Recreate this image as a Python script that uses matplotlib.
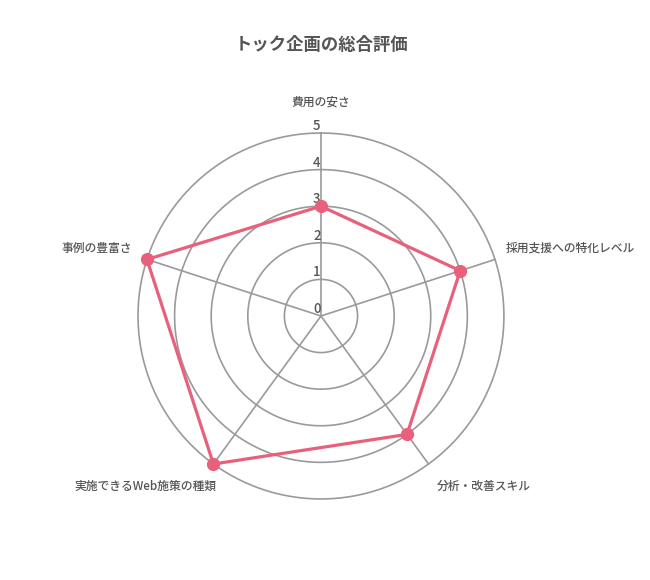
import numpy as np
import matplotlib
matplotlib.use('Agg')
import matplotlib.pyplot as plt

plt.rcParams['font.family'] = ['Noto Sans CJK JP', 'DejaVu Sans']

title = 'トック企画の総合評価'
categories = ['費用の安さ', '採用支援への特化レベル', '分析・改善スキル',
              '実施できるWeb施策の種類', '事例の豊富さ']
scores = [3, 4, 4, 5, 5]
ticks = [0, 1, 2, 3, 4, 5]

text_col = '#555555'
grid_col = '#9a9a9a'
line_col = '#e8607c'

fig = plt.figure(figsize=(6.5, 5.8), dpi=100)
ax = fig.add_axes([0.2123, 0.1397, 0.563, 0.631], projection='polar')
ax.set_theta_zero_location('N')
ax.set_theta_direction(-1)
ax.set_ylim(0, 5)

n = len(categories)
angles = np.linspace(0, 2 * np.pi, n, endpoint=False)

# rings and spokes
ax.grid(False)
ax.spines['polar'].set_visible(False)
ax.set_xticks([])
ax.set_yticks([])
th = np.linspace(0, 2 * np.pi, 300)
for r in ticks[1:]:
    ax.plot(th, np.full_like(th, r), color=grid_col, lw=1.2, zorder=1, clip_on=False)
for a in angles:
    ax.plot([a, a], [0, 5], color=grid_col, lw=1.2, zorder=1, clip_on=False)

# tick numbers
for r in ticks:
    ax.annotate(str(r), (0, r), xytext=(-3, 0), textcoords='offset points',
                ha='center', va='bottom', fontsize=9.5, color=text_col,
                fontweight='medium', zorder=2)

# data
vals = scores + scores[:1]
angs = list(angles) + [angles[0]]
ax.plot(angs, vals, color=line_col, lw=2.3, zorder=3, clip_on=False)
ax.plot(angles, scores, 'o', color=line_col, ms=8.5, zorder=4, clip_on=False)

# category labels
offsets = [(0, 22, 'center', 'center'),
           (8, 8, 'left', 'center'),
           (6, -16, 'left', 'center'),
           (2, -16, 'right', 'center'),
           (-11, 8, 'right', 'center')]
for a, lab, (dx, dy, ha, va) in zip(angles, categories, offsets):
    ax.annotate(lab, (a, 5), xytext=(dx, dy), textcoords='offset points',
                ha=ha, va=va, fontsize=8.5, color=text_col, fontweight='medium')

fig.text(0.495, 0.922, title, ha='center', va='center', fontsize=12.5,
         fontweight='bold', color=text_col)

fig.savefig('out.png', dpi=100)
